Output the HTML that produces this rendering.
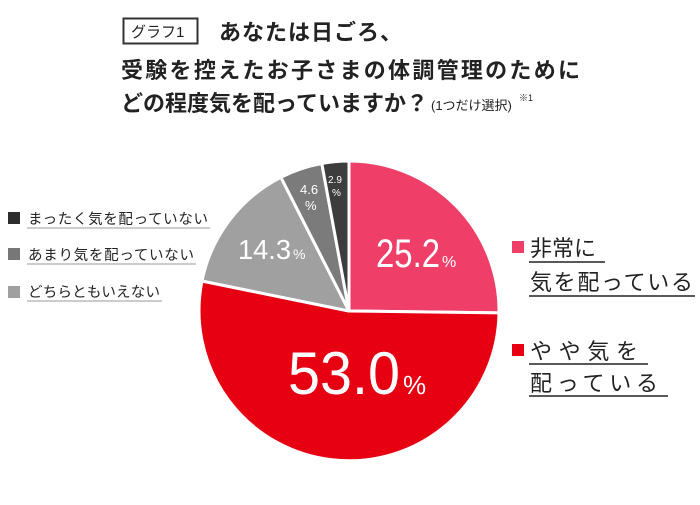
<!DOCTYPE html>
<html><head><meta charset="utf-8"><style>
body{margin:0;background:#fff;}
svg text{font-family:"Liberation Sans","Noto Sans CJK JP",sans-serif;}
</style></head><body>
<svg width="700" height="500" viewBox="0 0 700 500" xmlns="http://www.w3.org/2000/svg">
<rect width="700" height="500" fill="#fff"/>
<rect x="123.5" y="18.5" width="74" height="25" fill="none" stroke="#333" stroke-width="2"/>
<text x="131" y="37" font-size="15" fill="#222">グラフ1</text>
<text x="219" y="40" font-size="22" fill="#222" font-weight="bold" letter-spacing="1">あなたは日ごろ、</text>
<text x="121" y="78" font-size="22" fill="#222" font-weight="bold" textLength="459" lengthAdjust="spacing">受験を控えたお子さまの体調管理のために</text>
<text x="121" y="111" font-size="22" fill="#222" font-weight="bold" textLength="307" lengthAdjust="spacing">どの程度気を配っていますか？</text>
<text x="431" y="110" font-size="13" fill="#222">(1つだけ選択)</text>
<text x="519" y="101" font-size="9" fill="#222">※1</text>

<g stroke="#fff" stroke-width="3" stroke-linejoin="round">
<path d="M349,311 L349,161 A150,150 0 0 1 499,312.9 Z" fill="#ef3f68"/>
<path d="M349,311 L499,312.9 A150,150 0 1 1 202,281 Z" fill="#e60012"/>
<path d="M349,311 L202,281 A150,150 0 0 1 280.9,177.3 Z" fill="#a0a0a0"/>
<path d="M349,311 L280.9,177.3 A150,150 0 0 1 321.8,163.5 Z" fill="#7b7b7b"/>
<path d="M349,311 L321.8,163.5 A150,150 0 0 1 349,161 Z" fill="#3d3d3d"/>
</g>
<g fill="#fff">
<text x="376" y="267" font-size="40" textLength="64" lengthAdjust="spacingAndGlyphs">25.2</text>
<text x="442" y="267" font-size="16">%</text>
<text x="288" y="394" font-size="60" textLength="112" lengthAdjust="spacingAndGlyphs">53.0</text>
<text x="403" y="394" font-size="26">%</text>
<text x="238" y="259" font-size="28" textLength="53" lengthAdjust="spacingAndGlyphs">14.3</text>
<text x="293" y="259" font-size="14">%</text>
<text x="300" y="194" font-size="13">4.6</text>
<text x="305" y="210" font-size="13">%</text>
<text x="328" y="183" font-size="10">2.9</text>
<text x="332" y="196" font-size="10">%</text>
</g>

<rect x="8" y="212" width="12" height="12" fill="#2d2d2d"/>
<text x="28" y="224" font-size="14.5" fill="#222" textLength="180" lengthAdjust="spacing">まったく気を配っていない</text>
<line x1="27" y1="228" x2="210" y2="228" stroke="#999" stroke-width="1"/>
<rect x="8" y="248" width="12" height="12" fill="#777"/>
<text x="28" y="260" font-size="14.5" fill="#222" textLength="166" lengthAdjust="spacing">あまり気を配っていない</text>
<line x1="27" y1="264" x2="196" y2="264" stroke="#999" stroke-width="1"/>
<rect x="8" y="286" width="12" height="12" fill="#a0a0a0"/>
<text x="28" y="297" font-size="14.5" fill="#222" textLength="132" lengthAdjust="spacing">どちらともいえない</text>
<line x1="27" y1="301" x2="162" y2="301" stroke="#999" stroke-width="1"/>

<rect x="512" y="241" width="12" height="12" fill="#ef3f68"/>
<text x="530" y="256" font-size="22" fill="#222">非常に</text>
<line x1="529" y1="262" x2="605" y2="262" stroke="#222" stroke-width="1.5"/>
<text x="530" y="290" font-size="22" fill="#222" textLength="163" lengthAdjust="spacing">気を配っている</text>
<line x1="529" y1="296" x2="695" y2="296" stroke="#222" stroke-width="1.5"/>
<rect x="512" y="344" width="12" height="12" fill="#e60012"/>
<text x="530" y="359" font-size="22" fill="#222" textLength="108" lengthAdjust="spacing">やや気を</text>
<line x1="529" y1="364" x2="648" y2="364" stroke="#222" stroke-width="1.5"/>
<text x="530" y="391" font-size="22" fill="#222" textLength="128" lengthAdjust="spacing">配っている</text>
<line x1="529" y1="396" x2="668" y2="396" stroke="#222" stroke-width="1.5"/>
</svg>
</body></html>
